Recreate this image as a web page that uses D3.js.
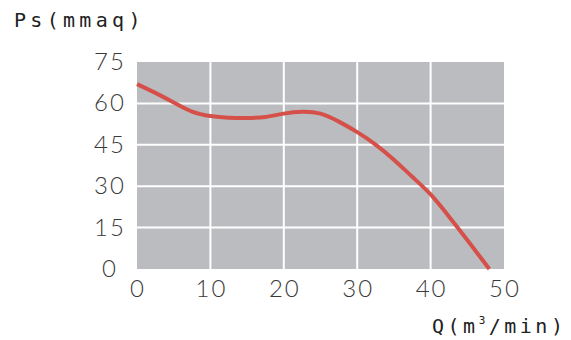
<!DOCTYPE html>
<html>
<head>
<meta charset="utf-8">
<script src="https://cdn.jsdelivr.net/npm/d3@7"></script>
<style>
  body { margin: 0; background: #fff; }
  .tick-label { font-family: Lato, "Open Sans", sans-serif; font-weight: 300; font-size: 24px; fill: #3a3a3a; letter-spacing: 2px; }
  .axis-title { font-family: "DejaVu Sans Mono", monospace; font-size: 20px; fill: #222; }
</style>
</head>
<body>
<svg id="chart"></svg>
<script>
// flow Q (m3/min) vs static pressure Ps (mmaq)
const flow = [0, 2.5, 5, 7.5, 10, 12.5, 15, 17.5, 20, 22.5, 25, 27.5, 30, 32.5, 35, 37.5, 40, 42.5, 45, 48];
const pressure = [67, 63.8, 60.3, 57, 55.4, 54.8, 54.7, 55.1, 56.3, 57, 56.3, 53.4, 49.6, 45.1, 39.6, 33.4, 27, 19, 10.5, 0];
const xTicks = [0, 10, 20, 30, 40, 50];
const yTicks = [0, 15, 30, 45, 60, 75];

const config = {
  width: 571,
  height: 340,
  margin: { top: 62, right: 67, bottom: 71, left: 137 }
};

const data = flow.map((q, i) => ({ q: q, p: pressure[i] }));

const svg = d3.select('#chart')
  .attr('width', config.width)
  .attr('height', config.height);

const innerW = config.width - config.margin.left - config.margin.right;
const innerH = config.height - config.margin.top - config.margin.bottom;

const xScale = d3.scaleLinear().domain([0, 50]).range([config.margin.left, config.margin.left + innerW]);
const yScale = d3.scaleLinear().domain([0, 75]).range([config.margin.top + innerH, config.margin.top]);

// grey plot background
svg.append('rect')
  .attr('x', xScale(0))
  .attr('y', yScale(75))
  .attr('width', xScale(50) - xScale(0))
  .attr('height', yScale(0) - yScale(75))
  .attr('fill', '#bbbcc0');

// white grid lines
svg.selectAll('.grid-x')
  .data(xTicks.slice(1, -1))
  .join('line')
  .attr('class', 'grid-x')
  .attr('x1', d => xScale(d)).attr('x2', d => xScale(d))
  .attr('y1', yScale(75)).attr('y2', yScale(0))
  .attr('stroke', '#fff').attr('stroke-width', 2);

svg.selectAll('.grid-y')
  .data(yTicks.slice(1, -1))
  .join('line')
  .attr('class', 'grid-y')
  .attr('y1', d => yScale(d)).attr('y2', d => yScale(d))
  .attr('x1', xScale(0)).attr('x2', xScale(50))
  .attr('stroke', '#fff').attr('stroke-width', 2);

// tick labels
svg.selectAll('.x-label')
  .data(xTicks)
  .join('text')
  .attr('class', 'tick-label x-label')
  .attr('x', d => xScale(d) + 1)
  .attr('y', yScale(0) + 28)
  .attr('text-anchor', 'middle')
  .text(d => d);

svg.selectAll('.y-label')
  .data(yTicks)
  .join('text')
  .attr('class', 'tick-label y-label')
  .attr('x', config.margin.left - 27)
  .attr('y', d => yScale(d) + 8)
  .attr('text-anchor', 'middle')
  .text(d => d);

// curve
const line = d3.line()
  .x(d => xScale(d.q))
  .y(d => yScale(d.p))
  .curve(d3.curveNatural);

svg.append('path')
  .datum(data)
  .attr('d', line)
  .attr('fill', 'none')
  .attr('stroke', '#d6504a')
  .attr('stroke-width', 4)
  .attr('stroke-linecap', 'butt');

// axis titles
svg.append('text')
  .attr('class', 'axis-title')
  .attr('x', 14)
  .attr('y', 27)
  .attr('letter-spacing', 4.3)
  .text('Ps(mmaq)');

const qTitle = svg.append('text')
  .attr('class', 'axis-title')
  .attr('x', 432)
  .attr('y', 333)
  .attr('letter-spacing', 3.5);
qTitle.append('tspan').text('Q(m');
qTitle.append('tspan').attr('font-size', 11).attr('dy', -9).text('3');
qTitle.append('tspan').attr('dy', 9).text('/min)');
</script>
</body>
</html>
